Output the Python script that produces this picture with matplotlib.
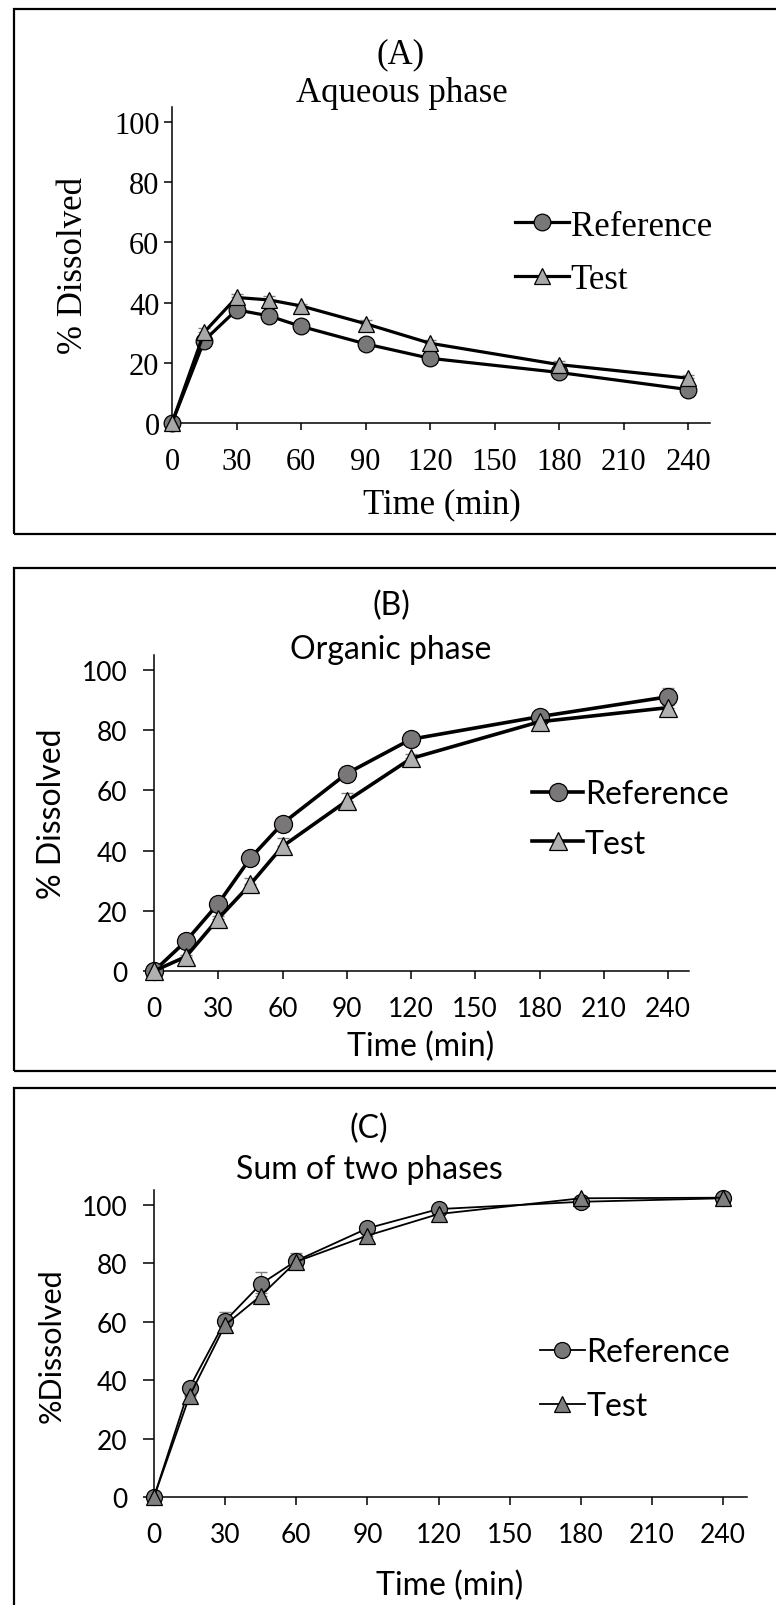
import matplotlib
matplotlib.use("Agg")
import matplotlib.pyplot as plt
from matplotlib.patches import Rectangle

# ----- data -----
time_min = [0, 15, 30, 45, 60, 90, 120, 180, 240]
x_ticks = [0, 30, 60, 90, 120, 150, 180, 210, 240]
y_ticks = [0, 20, 40, 60, 80, 100]

# (A) aqueous phase
aq_ref = [0, 27.4, 37.6, 35.6, 32.1, 26.3, 21.5, 16.8, 11.1]
aq_ref_err = [0, 0.8, 0.8, 0.8, 0.8, 0.8, 0.8, 0.8, 0.8]
aq_test = [0, 30.2, 41.7, 40.9, 38.9, 33.0, 26.5, 19.4, 14.9]
aq_test_err = [0, 1.2, 1.2, 1.2, 0.8, 1.2, 1.2, 1.2, 1.2]

# (B) organic phase
org_ref = [0, 10.0, 22.4, 37.5, 49.0, 65.6, 77.0, 84.5, 91.1]
org_ref_err = [0, 0.5, 0.5, 0.8, 0.8, 0.8, 0.5, 0.8, 3.0]
org_test = [0, 4.8, 17.4, 28.8, 41.4, 56.5, 70.6, 82.8, 87.5]
org_test_err = [0, 0.5, 0.8, 2.0, 2.7, 2.8, 1.5, 0.8, 0.8]

# (C) sum of two phases
sum_ref = [0, 37.5, 60.3, 72.9, 80.9, 92.0, 98.6, 101.1, 102.3]
sum_ref_err = [0, 0.8, 3.0, 4.2, 2.8, 1.5, 1.0, 0.5, 0.5]
sum_test = [0, 34.6, 58.9, 68.9, 80.6, 89.5, 96.9, 102.3, 102.5]
sum_test_err = [0, 0.5, 0.8, 1.0, 1.0, 0.8, 0.8, 0.5, 0.5]

W, H = 776, 1606
fig = plt.figure(figsize=(W / 100, H / 100), dpi=100)


def fx(px):
    return px / W


def fy(py):
    return 1 - py / H


def panel_box(top, bottom):
    fig.patches.append(Rectangle((fx(14), fy(bottom)), 1.2, fy(top) - fy(bottom),
                                 transform=fig.transFigure, fill=False,
                                 edgecolor="black", linewidth=1.6))


def draw_panel(left, x0_py, y100_py, ref, ref_err, test, test_err, cfg):
    font = cfg["font"]
    plt.rcParams["font.family"] = [font]

    # pixel -> axes: 0..250 on x, 0..105 on y
    px_per_min = (cfg["px240"] - left) / 240
    px_per_unit = (x0_py - y100_py) / 100
    ax = fig.add_axes([fx(left), fy(x0_py), 250 * px_per_min / W, 105 * px_per_unit / H])
    ax.set_xlim(0, 250)
    ax.set_ylim(0, 105)

    ax.errorbar(time_min, ref, yerr=[[0] * len(ref), ref_err], fmt="none",
                ecolor="#7f7f7f", elinewidth=1, capsize=4, capthick=1, clip_on=False)
    ax.errorbar(time_min, test, yerr=[[0] * len(test), test_err], fmt="none",
                ecolor="#7f7f7f", elinewidth=1, capsize=4, capthick=1, clip_on=False)
    ax.plot(time_min, ref, "-o", color="black", lw=cfg["lw"], ms=cfg["ms"],
            mfc="#7a7778", mec="black", mew=0.9, label="Reference", clip_on=False, zorder=3)
    ax.plot(time_min, test, "-^", color="black", lw=cfg["lw"], ms=cfg["ms"],
            mfc=cfg["tri"], mec="black", mew=0.9, label="Test", clip_on=False, zorder=4)

    for s in ["top", "right"]:
        ax.spines[s].set_visible(False)
    for s in ["left", "bottom"]:
        ax.spines[s].set_linewidth(1.1)
    ax.set_xticks(x_ticks, labels=[str(v) for v in x_ticks], fontfamily=font)
    ax.set_yticks(y_ticks, labels=[str(v) for v in y_ticks], fontfamily=font)
    ax.tick_params(axis="x", direction="out", length=cfg["xtl"], width=1.1,
                   pad=cfg["xpad"], labelsize=cfg["tick_fs"], labelfontfamily=font)
    ax.tick_params(axis="y", direction="out", length=cfg["ytl"], width=1.1,
                   pad=cfg["ypad"], labelsize=cfg["tick_fs"], labelfontfamily=font)

    ax.set_xlabel("Time (min)", fontsize=cfg["lab_fs"], family=font)
    ax.xaxis.set_label_coords(fx(cfg["xlab"][0]), fy(cfg["xlab"][1]), transform=fig.transFigure)
    ax.xaxis.label.set_va("center")
    ax.set_ylabel(cfg["ylabel"], fontsize=cfg["ylab_fs"], family=font)
    ax.yaxis.set_label_coords(fx(cfg["ylab"][0]), fy(cfg["ylab"][1]), transform=fig.transFigure)
    ax.yaxis.label.set_va("center")

    fig.text(fx(cfg["tag"][0]), fy(cfg["tag"][1]), cfg["tag_text"], ha="center", va="center",
             fontsize=cfg["title_fs"], family=font)
    fig.text(fx(cfg["title"][0]), fy(cfg["title"][1]), cfg["title_text"], ha="center",
             va="center", fontsize=cfg["title_fs"], family=font)

    ax.legend(loc="center left", bbox_to_anchor=(fx(cfg["leg"][0]), fy(cfg["leg"][1])),
              bbox_transform=fig.transFigure, frameon=False, prop={"family": font, "size": cfg["leg_fs"]},
              handlelength=cfg["hl"], handletextpad=0.05, labelspacing=cfg["ls"],
              borderpad=0, borderaxespad=0)
    # make the tick texts now, while the font is set
    for lab in ax.get_xticklabels() + ax.get_yticklabels():
        lab.set_fontfamily(font)
    return ax


# panel borders (open on the right side)
panel_box(10, 535)
panel_box(569, 1072)
panel_box(1089, 1650)

serif = "Liberation Serif"
sans = "Lato"

draw_panel(172, 424, 123, aq_ref, aq_ref_err, aq_test, aq_test_err, dict(
    px240=688, font=serif, lw=2.3, ms=12, tri="#a8a8a8",
    xtl=5, ytl=6, xpad=12, ypad=3, tick_fs=22, lab_fs=25, ylab_fs=25, title_fs=25, leg_fs=25,
    ylabel="% Dissolved", xlab=(442, 505), ylab=(74, 265),
    tag=(401, 55), tag_text="(A)", title=(402, 93), title_text="Aqueous phase",
    leg=(515, 254), hl=1.55, ls=0.6))

draw_panel(154, 972, 671, org_ref, org_ref_err, org_test, org_test_err, dict(
    px240=668, font=sans, lw=2.6, ms=13, tri="#b0b0b0",
    xtl=6, ytl=8, xpad=12, ypad=11, tick_fs=19, lab_fs=23, ylab_fs=23, title_fs=23, leg_fs=23,
    ylabel="% Dissolved", xlab=(421, 1047), ylab=(52, 814),
    tag=(391, 606), tag_text="(B)", title=(391, 650), title_text="Organic phase",
    leg=(532, 820), hl=1.6, ls=0.6))

draw_panel(154, 1498, 1206, sum_ref, sum_ref_err, sum_test, sum_test_err, dict(
    px240=723, font=sans, lw=1.3, ms=11.5, tri="#7f7f7f",
    xtl=6, ytl=8, xpad=12, ypad=11, tick_fs=19, lab_fs=23, ylab_fs=22, title_fs=23, leg_fs=23,
    ylabel="%Dissolved", xlab=(450, 1586), ylab=(52, 1346),
    tag=(369, 1129), tag_text="(C)", title=(369, 1170), title_text="Sum of two phases",
    leg=(540, 1380), hl=1.4, ls=0.75))

fig.savefig("out.png", dpi=100)
